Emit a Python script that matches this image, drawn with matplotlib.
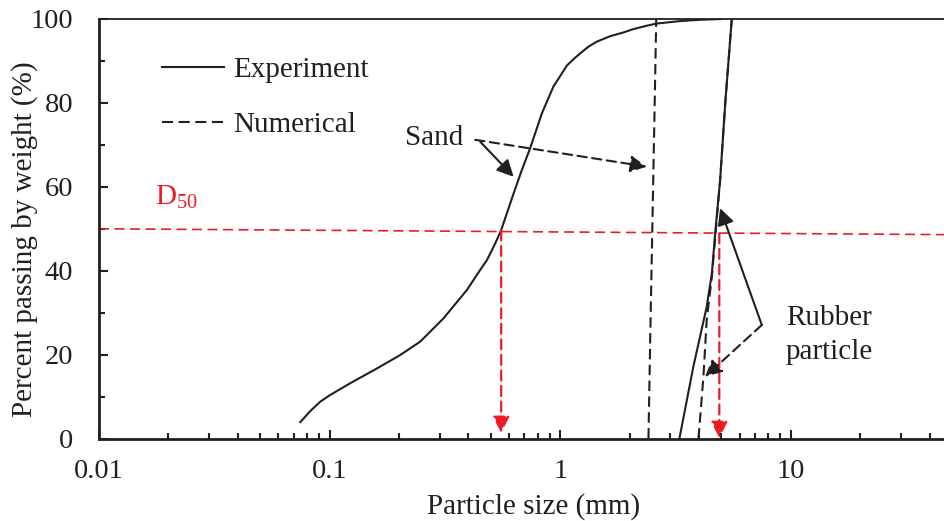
import matplotlib
matplotlib.use("Agg")
import matplotlib.pyplot as plt
from matplotlib.lines import Line2D
from matplotlib.ticker import FixedLocator, NullFormatter, LogLocator

plt.rcParams['font.family'] = ['Liberation Serif', 'DejaVu Serif']
plt.rcParams['mathtext.fontset'] = 'custom'
plt.rcParams['mathtext.rm'] = 'Liberation Serif'
plt.rcParams['mathtext.it'] = 'Liberation Serif:italic'

# ---- data ----
sand_exp_x = [0.0746, 0.0825, 0.0912, 0.1008, 0.1231, 0.1605, 0.2025, 0.2473, 0.312, 0.394,
              0.450, 0.481, 0.5228, 0.555, 0.628, 0.68, 0.741, 0.833, 0.935, 1.0,
              1.069, 1.142, 1.221, 1.326, 1.442, 1.647, 1.882, 2.078, 2.376, 2.61,
              3.31, 4.0, 5.0]
sand_exp_y = [3.9, 6.55, 8.8, 10.4, 13.2, 16.7, 19.9, 23.1, 28.65, 35.4,
              40.2, 42.5, 46.5, 49.7, 58.4, 63.8, 69.2, 77.5, 83.9, 86.4,
              88.9, 90.4, 91.8, 93.4, 94.6, 95.9, 96.8, 97.6, 98.4, 98.9,
              99.5, 99.8, 100.0]
sand_num_x = [2.415, 2.46, 2.51, 2.56, 2.61]
sand_num_y = [0.0, 25.0, 50.0, 75.0, 100.0]
rubber_exp_x = [3.29, 3.78, 4.32, 4.55, 4.70, 4.94, 5.20, 5.55]
rubber_exp_y = [0.0, 17.1, 31.4, 39.4, 48.9, 61.6, 80.0, 100.0]
rubber_num_x = [3.98, 4.18, 4.32, 4.55, 4.72, 4.94, 5.20, 5.55]
rubber_num_y = [0.0, 14.7, 28.2, 38.6, 48.9, 61.6, 80.0, 100.0]

d50_line_x = [0.01, 46.2]
d50_line_y = [50.0, 48.6]
d50_sand = 0.555
d50_rubber = 4.90

x_limits = [0.01, 46.2]
y_ticks = [0, 20, 40, 60, 80, 100]
y_minor = [10, 30, 50, 70, 90]
x_ticks = [0.01, 0.1, 1, 10]
x_ticklabels = ['0.01', '0.1', '1', '10']

BLACK = '#231f20'
RED = '#ed1c24'
FS = 21

fig = plt.figure(figsize=(9.44, 5.21), dpi=100)
ax = fig.add_axes([99/944, 82.5/521, 845/944, 419.5/521])

dash = (0, (5, 2.6))
ax.plot(sand_exp_x, sand_exp_y, color=BLACK, lw=1.5)
ax.plot(sand_num_x, sand_num_y, color=BLACK, lw=1.5, linestyle=dash)
ax.plot(rubber_exp_x, rubber_exp_y, color=BLACK, lw=1.5)
ax.plot(rubber_num_x, rubber_num_y, color=BLACK, lw=1.5, linestyle=dash)

# D50 line
ax.plot(d50_line_x, d50_line_y, color=RED, lw=1.2, linestyle=(0, (6, 3.3)), clip_on=False)

# red D50 arrows
for xv, y0, y1 in [(d50_sand, 49.6, 1.3), (d50_rubber, 48.9, 0.1)]:
    ax.annotate('', xy=(xv, y1), xytext=(xv, y0),
                arrowprops=dict(arrowstyle='-|>', color=RED, lw=1.6, linestyle=(0, (4.5, 2.5)),
                                mutation_scale=25, shrinkA=0, shrinkB=0))

# black annotation arrows
arrows = [
    ((0.628, 62.4), (0.450, 70.75), '-'),
    ((2.376, 64.8), (0.428, 71.2), '--'),
    ((4.94, 54.9), (7.49, 27.06), '-'),
    ((4.25, 14.7), (7.49, 27.06), '--'),
]
for tip, tail, ls in arrows:
    ax.annotate('', xy=tip, xytext=tail,
                arrowprops=dict(arrowstyle='-|>', color=BLACK, lw=1.5,
                                linestyle=ls if ls == '-' else (0, (4.5, 2.6)),
                                mutation_scale=25, shrinkA=0, shrinkB=0))

ax.text(405/944, 1 - 138/521, 'Sand', transform=fig.transFigure, fontsize=FS,
        color=BLACK, ha='left', va='center')
ax.text(786/944, 1 - 335/521, 'Rubber\nparticle', transform=fig.transFigure, fontsize=FS,
        color=BLACK, ha='left', va='center', linespacing=1.38)
ax.text(155/944, 1 - 197/521, r'D$_{50}$', transform=fig.transFigure, fontsize=FS,
        color=RED, ha='left', va='center')

# legend
handles = [Line2D([], [], color=BLACK, lw=1.5),
           Line2D([], [], color=BLACK, lw=1.5, linestyle=(0, (5.3, 2.7)))]
leg = ax.legend(handles, ['Experiment', 'Numerical'], loc='upper left',
                bbox_to_anchor=(0.0742, 0.911), frameon=False, fontsize=FS,
                handlelength=2.12, handletextpad=0.33, labelspacing=1.0,
                borderpad=0, borderaxespad=0)
for t in leg.get_texts():
    t.set_color(BLACK)

ax.set_xscale('log')
ax.set_xlim(x_limits)
ax.set_ylim(0, 100)
ax.xaxis.set_major_locator(FixedLocator(x_ticks))
ax.set_xticklabels(x_ticklabels)
ax.xaxis.set_minor_locator(LogLocator(base=10, subs=range(2, 10)))
ax.xaxis.set_minor_formatter(NullFormatter())
ax.set_yticks(y_ticks)
ax.yaxis.set_minor_locator(FixedLocator(y_minor))

ax.tick_params(axis='both', which='both', direction='in', colors=BLACK, width=1.5,
               labelsize=20.5)
ax.tick_params(axis='both', which='major', length=6.5)
ax.tick_params(axis='both', which='minor', length=4.3)
ax.tick_params(axis='x', which='major', pad=15)
ax.tick_params(axis='y', which='major', pad=18.5)

for s in ['left', 'bottom']:
    ax.spines[s].set_linewidth(2.0)
    ax.spines[s].set_color(BLACK)
ax.spines['top'].set_linewidth(1.3)
ax.spines['top'].set_color(BLACK)
ax.spines['right'].set_visible(False)

ax.set_xlabel('Particle size (mm)', fontsize=FS, color=BLACK)
ax.set_ylabel('Percent passing by weight (%)', fontsize=FS, color=BLACK)
ax.xaxis.set_label_coords(435/845, -55/419.5)
ax.yaxis.set_label_coords(-61/845, 0.4756)

fig.savefig('out.png', dpi=100)
